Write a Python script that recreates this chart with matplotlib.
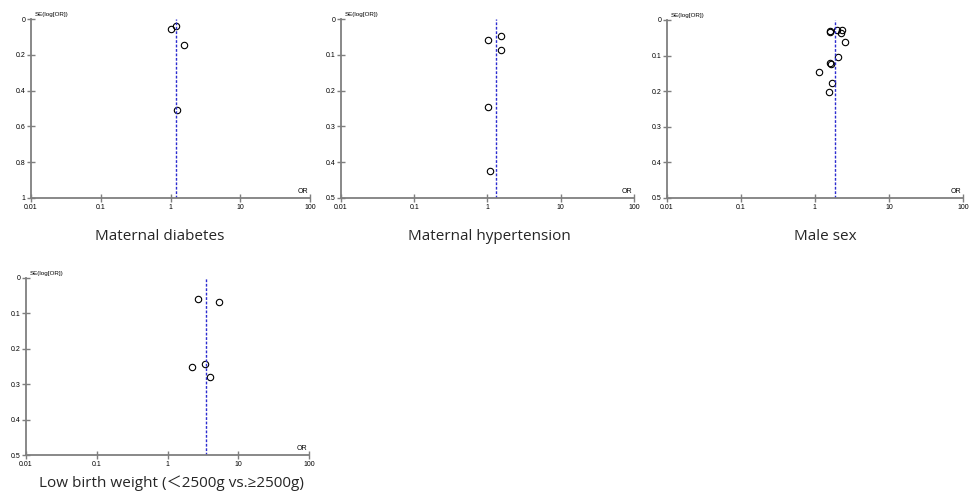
import numpy as np
import matplotlib
matplotlib.use('Agg')
import matplotlib.pyplot as plt

plt.rcParams['font.family'] = ['Liberation Sans', 'DejaVu Sans']

# funnel plot data: OR and SE(log[OR]) per study
diab_or = [1.00, 1.19, 1.58, 1.25]
diab_se = [0.056, 0.037, 0.145, 0.51]
diab_pooled = 1.18

hyp_or = [1.02, 1.52, 1.54, 1.02, 1.07]
hyp_se = [0.058, 0.048, 0.086, 0.245, 0.425]
hyp_pooled = 1.29

male_or = [1.59, 1.61, 2.00, 2.32, 2.22, 2.54, 2.05, 1.61, 1.63, 1.12, 1.71, 1.53]
male_se = [0.032, 0.034, 0.027, 0.027, 0.037, 0.0625, 0.1035, 0.121, 0.123, 0.145, 0.176, 0.202]
male_pooled = 1.86

lbw_or = [2.65, 5.35, 2.25, 3.36, 4.04]
lbw_se = [0.060, 0.0686, 0.252, 0.244, 0.280]
lbw_pooled = 3.47

x_ticks = [0.01, 0.1, 1, 10, 100]
x_ticklabels = ['0.01', '0.1', '1', '10', '100']
titles = ['Maternal diabetes', 'Maternal hypertension', 'Male sex',
          'Low birth weight (\uff1c2500g vs.\u22652500g)']

axcol = '#7f7f7f'
fig = plt.figure(figsize=(9.75, 5), dpi=100)


def funnel(rect, ors, ses, pooled, ymax, ystep):
    ax = fig.add_axes(rect)
    ax.set_xscale('log')
    ax.set_xlim(0.01, 100)
    ax.set_ylim(ymax, 0)
    ax.plot(ors, ses, 'o', ms=4.6, mfc='none', mec='k', mew=0.8, clip_on=False)
    ax.axvline(pooled, color='#2b2bd0', ls=(0, (2, 1.2)), lw=1.0)
    for s in ['top', 'right']:
        ax.spines[s].set_visible(False)
    for s in ['left', 'bottom']:
        ax.spines[s].set_color(axcol)
        ax.spines[s].set_linewidth(1.3)
    ax.set_xticks(x_ticks)
    ax.set_xticklabels(x_ticklabels)
    ax.minorticks_off()
    yt = np.round(np.arange(0, ymax + 1e-9, ystep), 2)
    ax.set_yticks(yt)
    ax.set_yticklabels(['%g' % v for v in yt])
    ax.tick_params(direction='inout', length=6, width=1, color=axcol,
                   labelsize=5, pad=1)
    ax.text(0.012, 1.01, 'SE(log[OR])', transform=ax.transAxes,
            fontsize=4.5, ha='left', va='bottom')
    ax.text(0.995, 0.015, 'OR', transform=ax.transAxes,
            fontsize=5, ha='right', va='bottom')
    return ax


funnel([0.0318, 0.604, 0.2862, 0.358], diab_or, diab_se, diab_pooled, 1.0, 0.2)
funnel([0.3497, 0.604, 0.3005, 0.358], hyp_or, hyp_se, hyp_pooled, 0.5, 0.1)
funnel([0.684, 0.604, 0.3036, 0.356], male_or, male_se, male_pooled, 0.5, 0.1)
funnel([0.0267, 0.09, 0.2903, 0.354], lbw_or, lbw_se, lbw_pooled, 0.5, 0.1)

title_pos = [(160, 236), (489, 236), (825, 236), (171, 483)]
for t, (px, py) in zip(titles, title_pos):
    fig.text(px / 975, 1 - py / 500, t, ha='center', va='center', fontsize=11,
             color='#262626', family=['Open Sans', 'Noto Sans CJK SC', 'DejaVu Sans'])

fig.savefig('out.png', dpi=100, facecolor='white')
